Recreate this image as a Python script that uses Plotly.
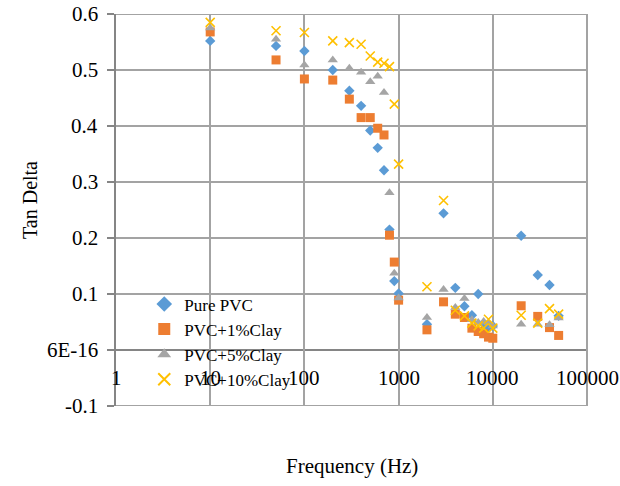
import math
import plotly.graph_objects as go

freq = [10, 50, 100, 200, 300, 400, 500, 600, 700, 800, 900, 1000,
        2000, 3000, 4000, 5000, 6000, 7000, 8000, 9000, 10000,
        20000, 30000, 40000, 50000]

pure_pvc = [0.552, 0.543, 0.534, 0.500, 0.463, 0.436, 0.392, 0.361, 0.321, 0.215, 0.123, 0.101,
            0.046, 0.244, 0.111, 0.078, 0.062, 0.100, 0.046, 0.041, 0.043,
            0.204, 0.134, 0.116, 0.061]
pvc_1 = [0.568, 0.518, 0.484, 0.482, 0.448, 0.415, 0.415, 0.396, 0.384, 0.205, 0.157, 0.089,
         0.036, 0.086, 0.064, 0.058, 0.039, 0.033, 0.029, 0.023, 0.021,
         0.079, 0.060, 0.040, 0.026]
pvc_5 = [0.575, 0.555, 0.509, 0.518, 0.503, 0.496, 0.479, 0.489, 0.460, 0.281, 0.137, 0.093,
         0.058, 0.108, 0.076, 0.092, 0.054, 0.049, 0.051, 0.048, 0.043,
         0.046, 0.046, 0.045, 0.057]
pvc_10 = [0.585, 0.570, 0.567, 0.552, 0.549, 0.546, 0.525, 0.514, 0.512, 0.506, 0.439, 0.332,
          0.113, 0.267, 0.071, 0.061, 0.048, 0.043, 0.039, 0.055, 0.039,
          0.062, 0.048, 0.074, 0.064]

series_names = ["Pure PVC", "PVC+1%Clay", "PVC+5%Clay", "PVC+10%Clay"]
x_tickvals = [1, 10, 100, 1000, 10000, 100000]
x_ticktext = ["1", "10", "100", "1000", "10000", "100000"]
y_tickvals = [-0.1, 0, 0.1, 0.2, 0.3, 0.4, 0.5, 0.6]
y_ticktext = ["-0.1", "6E-16", "0.1", "0.2", "0.3", "0.4", "0.5", "0.6"]

FONT = "Liberation Serif"
GRID = "#A3A3A3"
AXIS = "#858585"

styles = [
    dict(symbol="diamond", color="#5B9BD5", size=8),
    dict(symbol="square", color="#ED7D31", size=9),
    dict(symbol="triangle-up", color="#A5A5A5", size=9),
    dict(symbol="x-thin", color="#FFC000", size=9, line=dict(color="#FFC000", width=1.6)),
]

fig = go.Figure()
for name, vals, st in zip(series_names, [pure_pvc, pvc_1, pvc_5, pvc_10], styles):
    fig.add_trace(go.Scatter(x=freq, y=vals, mode="markers", name=name,
                             legendgroup=name, marker=st))

# horizontal grid lines (and the y=0 axis line) at the y tick values
shapes = []
for v in y_tickvals:
    shapes.append(dict(type="line", xref="paper", yref="y", x0=0, x1=1, y0=v, y1=v,
                       layer="below",
                       line=dict(color=AXIS if v == 0 else GRID, width=2)))
# right edge grid line at the last decade
shapes.append(dict(type="line", xref="paper", yref="paper", x0=1, x1=1, y0=0, y1=1,
                   layer="below", line=dict(color=GRID, width=2)))

annotations = []
for v, t in zip(x_tickvals, x_ticktext):
    annotations.append(dict(text=t, x=math.log10(v), y=0, xref="x", yref="y",
                            showarrow=False, xanchor="center", yanchor="top", yshift=-14,
                            font=dict(family=FONT, size=21, color="black")))
for v, t in zip(y_tickvals, y_ticktext):
    annotations.append(dict(text=t, x=0, y=v, xref="paper", yref="y",
                            showarrow=False, xanchor="right", yanchor="middle", xshift=-16,
                            font=dict(family=FONT, size=21, color="black")))
annotations += [
    dict(text="Frequency (Hz)", x=0.5, y=-0.153, xref="paper", yref="paper",
         showarrow=False, xanchor="center", yanchor="middle",
         font=dict(family=FONT, size=21, color="black")),
    dict(text="Tan Delta", x=-0.183, y=0.525, xref="paper", yref="paper",
         showarrow=False, textangle=-90, xanchor="center", yanchor="middle",
         font=dict(family=FONT, size=20, color="black")),
]

fig.update_layout(
    width=620, height=486,
    margin=dict(l=116, r=33, t=14, b=80, autoexpand=False),
    paper_bgcolor="white", plot_bgcolor="white",
    font=dict(family=FONT, size=21, color="black"),
    showlegend=True,
    legend=dict(x=0.06, y=0.305, xanchor="left", yanchor="top",
                bgcolor="rgba(0,0,0,0)", font=dict(family=FONT, size=17),
                tracegroupgap=0, itemsizing="constant"),
    xaxis=dict(type="log", range=[0, 5], tickmode="array", tickvals=x_tickvals,
               showticklabels=False, ticks="",
               showgrid=True, gridcolor=GRID, gridwidth=2,
               showline=False, zeroline=False, automargin=False),
    yaxis=dict(range=[-0.1, 0.6], tickmode="array", tickvals=y_tickvals,
               showticklabels=False, showgrid=False,
               showline=True, linecolor=AXIS, linewidth=2,
               ticks="outside", ticklen=7, tickcolor=AXIS, tickwidth=2,
               zeroline=False, automargin=False),
    shapes=shapes,
    annotations=annotations,
)

fig.write_html("out.html")
